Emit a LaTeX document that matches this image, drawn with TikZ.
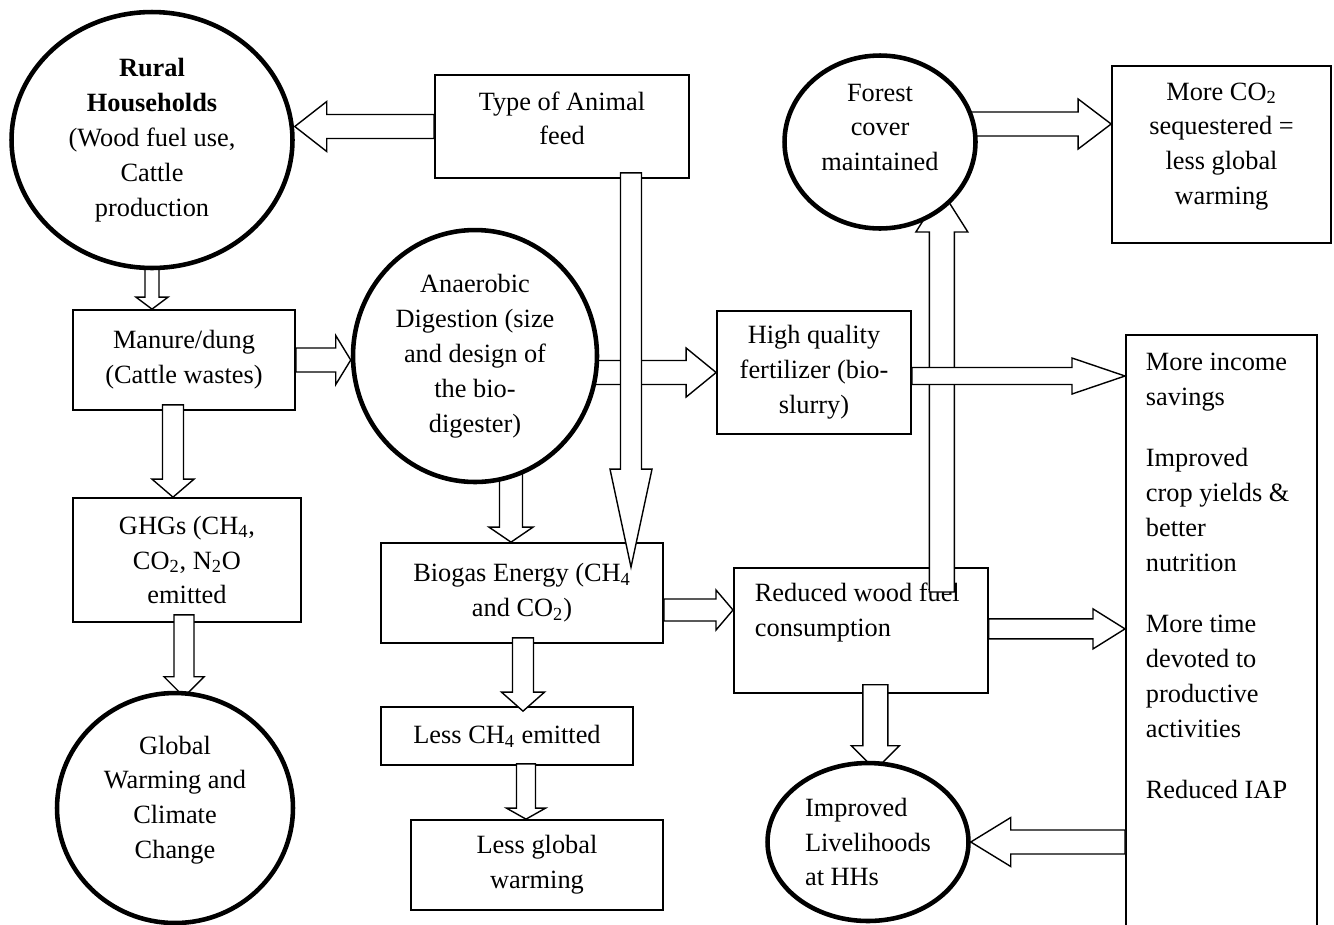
\documentclass[tikz,border=0pt]{standalone}
\usepackage{fontspec}
\setmainfont{Liberation Serif}
\usetikzlibrary{shapes.geometric,calc}
\pgfdeclarelayer{front}
\pgfsetlayers{main,front}
\newcommand{\pxu}{0.02cm}
\newcommand{\fatarrow}[5]{%
  \coordinate (fahead) at ($(#2)!#5*\pxu!(#1)$);
  \path[fatline] ($(#1)!#3*\pxu!90:(#2)$) -- ($(fahead)!#3*\pxu!90:(#2)$)
    -- ($(fahead)!#4*\pxu!90:(#2)$) -- (#2)
    -- ($(fahead)!#4*\pxu!-90:(#2)$) -- ($(fahead)!#3*\pxu!-90:(#2)$)
    -- ($(#1)!#3*\pxu!-90:(#2)$) -- cycle;
}
\begin{document}
\begin{tikzpicture}[
    x=0.02cm, y=-0.02cm,
    box/.style={draw, line width=1pt, align=center, inner sep=0pt,
      font=\fontsize{15}{19.9}\selectfont},
    bubble/.style={ellipse, draw, line width=2.6pt, fill=white, align=center,
      inner sep=0pt, font=\fontsize{15}{19.9}\selectfont},
    fatline/.style={draw, fill=white, line width=0.8pt, line join=miter}
    ]

    \useasboundingbox (0,0) rectangle (1334,924);
    \clip (0,0) rectangle (1334,924);

    \begin{pgfonlayer}{front}
    \node[bubble, minimum width=5.62cm, minimum height=5.12cm] (rural) at (152,140)
        {\textbf{Rural}\\\textbf{Households}\\(Wood fuel use,\\Cattle\\production};
    \node[bubble, minimum width=4.88cm, minimum height=5.04cm] (anaer) at (475,356)
        {Anaerobic\\Digestion (size\\and design of\\the bio-\\digester)};
    \node[bubble, minimum width=3.82cm, minimum height=3.46cm, text width=2.5cm,
        align=flush center, text height=0.36cm, text depth=2cm] (forest) at (880,142)
        {Forest\\cover\\maintained};
    \node[bubble, minimum width=4.72cm, minimum height=4.6cm, text width=3cm,
        align=flush center, text height=0.36cm, text depth=2.52cm] (global) at (175,808)
        {Global\\Warming and\\Climate\\Change};
    \node[bubble, minimum width=4.02cm, minimum height=3.16cm, align=left] (live) at (868,842)
        {Improved\\Livelihoods\\at HHs};
    \end{pgfonlayer}

    \node[box, minimum width=5.08cm, minimum height=2.06cm, text width=4.5cm,
        align=flush center, text height=0.36cm, text depth=1.02cm] (type) at (562,126.5)
        {Type of Animal\\feed};
    \node[box, minimum width=4.38cm, minimum height=3.54cm, text width=3.8cm,
        align=flush center, text height=0.36cm, text depth=2.54cm] (co2) at (1221.5,154.5)
        {More CO\textsubscript{2}\\sequestered =\\less global\\warming};
    \node[box, minimum width=4.44cm, minimum height=2cm] (manure) at (184,360)
        {Manure/dung\\(Cattle wastes)};
    \node[box, minimum width=4.56cm, minimum height=2.48cm] (ghg) at (187,560)
        {GHGs (CH\textsubscript{4},\\CO\textsubscript{2}, N\textsubscript{2}O\\emitted};
    \node[box, minimum width=3.88cm, minimum height=2.46cm] (hq) at (814,372.5)
        {High quality\\fertilizer (bio-\\slurry)};
    \node[box, minimum width=5.64cm, minimum height=2cm] (biogas) at (522,593)
        {Biogas Energy (CH\textsubscript{4}\\and CO\textsubscript{2})};
    \node[box, minimum width=5.04cm, minimum height=1.16cm] (lessch4) at (507,736)
        {Less CH\textsubscript{4} emitted};
    \node[box, minimum width=5.04cm, minimum height=1.8cm] (lessgw) at (537,865)
        {Less global\\warming};
    \node[box, anchor=north west, align=flush left, text width=4.24cm, inner xsep=0.42cm,
        inner ysep=0.27cm, text height=0.4cm, text depth=1.56cm] (reduced) at (733,567)
        {Reduced wood fuel\\consumption};
    \node[box, anchor=north west, align=flush left, text width=3.02cm, inner xsep=0.4cm,
        inner ysep=0.31cm, text height=0.4cm, text depth=12.5cm] (income) at (1125,334)
        {More income\\savings\\[0.52cm]Improved\\crop yields \&\\better\\nutrition\\[0.52cm]%
         More time\\devoted to\\productive\\activities\\[0.52cm]Reduced IAP};

    \coordinate (feedout) at ($(type.south)+(69,-6)$);
    \coordinate (feedin) at ($(feedout |- biogas.north)+(0,25)$);
    \coordinate (digestout) at ($(anaer.center)+(36,0)$);
    \coordinate (biogasout) at ($(biogas.east)+(0,17)$);
    \coordinate (methout) at ($(biogas.south)+(1,-6)$);
    \coordinate (methin) at ($(methout |- lessch4.north)+(0,5)$);
    \coordinate (lessout) at ($(lessch4.south)+(19,-2)$);
    \coordinate (dungout) at ($(manure.south)+(-11,-6)$);
    \coordinate (ghgout) at ($(ghg.south)+(-3,-8)$);
    \coordinate (ghgin) at ($(ghgout |- global.north)+(0,6)$);
    \coordinate (slurryout) at ($(hq.east)+(0,3.5)$);
    \coordinate (woodup) at ($(reduced.north)+(81,25)$);
    \coordinate (woodtop) at ($(woodup |- forest.center)+(0,49)$);
    \coordinate (woodout) at ($(reduced.east)+(0,-1.5)$);
    \coordinate (wooddown) at ($(reduced.south)+(14.5,-9)$);
    \coordinate (livein) at ($(wooddown |- live.north)+(0,9)$);
    \coordinate (forestout) at ($(forest.center)+(0,-18)$);

    \fatarrow{type.west}{type.west -| rural.east}{12}{25}{32}
    \fatarrow{rural.center}{rural.center |- manure.north}{7}{16}{12}
    \fatarrow{manure.east}{manure.east -| anaer.west}{12}{24.5}{15}
    \fatarrow{anaer.center |- hq.west}{hq.west}{12}{24.5}{30}
    \fatarrow{feedout}{feedin}{10.5}{21}{98}
    \fatarrow{digestout}{digestout |- biogas.north}{11.5}{22}{15}
    \fatarrow{biogasout}{biogasout -| reduced.west}{11}{20}{17}
    \fatarrow{methout}{methin}{10.5}{21.5}{19}
    \fatarrow{lessout}{lessout |- lessgw.north}{9.5}{19.5}{11}
    \fatarrow{dungout}{dungout |- ghg.north}{10.5}{21}{18}
    \fatarrow{ghgout}{ghgin}{10}{20}{20}
    \fatarrow{woodup}{woodtop}{12.5}{26}{41}
    \fatarrow{slurryout}{slurryout -| income.west}{8.5}{18}{53}
    \fatarrow{woodout}{woodout -| income.west}{10}{20}{32}
    \fatarrow{wooddown}{livein}{12.5}{24}{24}
    \fatarrow{live.east -| income.west}{live.east}{12}{24.5}{40}
    \fatarrow{forestout}{forestout -| co2.west}{12}{25}{33}

\end{tikzpicture}
\end{document}
